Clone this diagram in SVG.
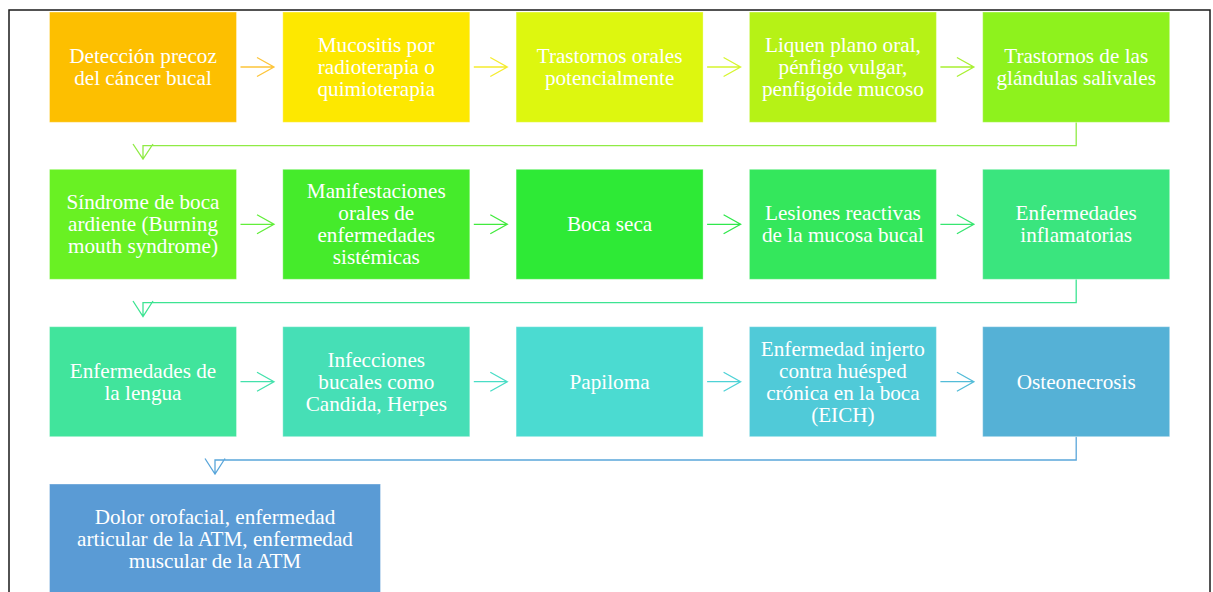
<svg xmlns="http://www.w3.org/2000/svg" width="1213" height="592" viewBox="0 0 1213 592" font-family="'Liberation Serif', serif">
  <style>
    .box { stroke: #ffffff; stroke-opacity: 0.35; stroke-width: 1; }
    text { font-family: "Liberation Serif", "Times New Roman", serif; font-size: 21.2px; fill: #ffffff; text-anchor: middle; }
    .con { fill: none; stroke-width: 1.3; }
    .frame { fill: none; stroke: #1a1a1a; stroke-width: 1.5; }
  </style>

  <rect width="1213" height="592" fill="#ffffff"/>
  <rect class="frame" x="9" y="10" width="1201" height="600"/>

  <!-- connectors -->
  <g id="connectors">
    <!-- row 1 -->
    <path class="con" stroke="#FDC53A" d="M240.5 67 H274 M257 57.5 L274 67 L257 76.5"/>
    <path class="con" stroke="#F5EC2E" d="M473.8 67 H507.3 M490.3 57.5 L507.3 67 L490.3 76.5"/>
    <path class="con" stroke="#D6F52E" d="M707.1 67 H740.6 M723.6 57.5 L740.6 67 L723.6 76.5"/>
    <path class="con" stroke="#A9F032" d="M940.4 67 H973.9 M956.9 57.5 L973.9 67 L956.9 76.5"/>
    <path class="con" stroke="#8FEB45" d="M1076.2 122.3 V145.6 H143 V159 M133 144 L143 159 L153 144"/>
    <!-- row 2 -->
    <path class="con" stroke="#62EE3A" d="M240.5 224.3 H274 M257 214.8 L274 224.3 L257 233.8"/>
    <path class="con" stroke="#42EA3E" d="M473.8 224.3 H507.3 M490.3 214.8 L507.3 224.3 L490.3 233.8"/>
    <path class="con" stroke="#30E84C" d="M707.1 224.3 H740.6 M723.6 214.8 L740.6 224.3 L723.6 233.8"/>
    <path class="con" stroke="#37E670" d="M940.4 224.3 H973.9 M956.9 214.8 L973.9 224.3 L956.9 233.8"/>
    <path class="con" stroke="#3DE492" d="M1076.2 279.3 V302.7 H143 V316.5 M133 301 L143 316.5 L153 301"/>
    <!-- row 3 -->
    <path class="con" stroke="#44E1AC" d="M240.5 381.7 H274 M257 372.2 L274 381.7 L257 391.2"/>
    <path class="con" stroke="#49DDC6" d="M473.8 381.7 H507.3 M490.3 372.2 L507.3 381.7 L490.3 391.2"/>
    <path class="con" stroke="#4ED2D6" d="M707.1 381.7 H740.6 M723.6 372.2 L740.6 381.7 L723.6 391.2"/>
    <path class="con" stroke="#53BCD8" d="M940.4 381.7 H973.9 M956.9 372.2 L973.9 381.7 L956.9 391.2"/>
    <path class="con" stroke="#5AA6DA" d="M1076.2 436.7 V460 H215 V474 M205 458.5 L215 474 L225 458.5"/>
  </g>

  <!-- row 1 -->
  <g id="n1">
    <rect class="box" x="49.5" y="12" width="187" height="110.3" fill="#FDBF00"/>
    <text x="143" y="63">Detección precoz</text>
    <text x="143" y="85">del cáncer bucal</text>
  </g>
  <g id="n2">
    <rect class="box" x="282.8" y="12" width="187" height="110.3" fill="#FDE800"/>
    <text x="376.3" y="52">Mucositis por</text>
    <text x="376.3" y="74">radioterapia o</text>
    <text x="376.3" y="96">quimioterapia</text>
  </g>
  <g id="n3">
    <rect class="box" x="516.1" y="12" width="187" height="110.3" fill="#DDF70F"/>
    <text x="609.6" y="63">Trastornos orales</text>
    <text x="609.6" y="85">potencialmente</text>
  </g>
  <g id="n4">
    <rect class="box" x="749.4" y="12" width="187" height="110.3" fill="#B6F216"/>
    <text x="842.9" y="52">Liquen plano oral,</text>
    <text x="842.9" y="74">pénfigo vulgar,</text>
    <text x="842.9" y="96">penfigoide mucoso</text>
  </g>
  <g id="n5">
    <rect class="box" x="982.7" y="12" width="187" height="110.3" fill="#8EF21D"/>
    <text x="1076.2" y="63">Trastornos de las</text>
    <text x="1076.2" y="85">glándulas salivales</text>
  </g>

  <!-- row 2 -->
  <g id="n6">
    <rect class="box" x="49.5" y="169.3" width="187" height="110" fill="#69F123"/>
    <text x="143" y="209.3">Síndrome de boca</text>
    <text x="143" y="231.3">ardiente (Burning</text>
    <text x="143" y="253.3">mouth syndrome)</text>
  </g>
  <g id="n7">
    <rect class="box" x="282.8" y="169.3" width="187" height="110" fill="#45EB2B"/>
    <text x="376.3" y="198.3">Manifestaciones</text>
    <text x="376.3" y="220.3">orales de</text>
    <text x="376.3" y="242.3">enfermedades</text>
    <text x="376.3" y="264.3">sistémicas</text>
  </g>
  <g id="n8">
    <rect class="box" x="516.1" y="169.3" width="187" height="110" fill="#2EEA36"/>
    <text x="609.6" y="231.3">Boca seca</text>
  </g>
  <g id="n9">
    <rect class="box" x="749.4" y="169.3" width="187" height="110" fill="#34E75C"/>
    <text x="842.9" y="220.3">Lesiones reactivas</text>
    <text x="842.9" y="242.3">de la mucosa bucal</text>
  </g>
  <g id="n10">
    <rect class="box" x="982.7" y="169.3" width="187" height="110" fill="#3AE57E"/>
    <text x="1076.2" y="220.3">Enfermedades</text>
    <text x="1076.2" y="242.3">inflamatorias</text>
  </g>

  <!-- row 3 -->
  <g id="n11">
    <rect class="box" x="49.5" y="326.7" width="187" height="110" fill="#41E49C"/>
    <text x="143" y="377.7">Enfermedades de</text>
    <text x="143" y="399.7">la lengua</text>
  </g>
  <g id="n12">
    <rect class="box" x="282.8" y="326.7" width="187" height="110" fill="#46DFB6"/>
    <text x="376.3" y="366.7">Infecciones</text>
    <text x="376.3" y="388.7">bucales como</text>
    <text x="376.3" y="410.7">Candida, Herpes</text>
  </g>
  <g id="n13">
    <rect class="box" x="516.1" y="326.7" width="187" height="110" fill="#4BDBD1"/>
    <text x="609.6" y="388.7">Papiloma</text>
  </g>
  <g id="n14">
    <rect class="box" x="749.4" y="326.7" width="187" height="110" fill="#50CAD8"/>
    <text x="842.9" y="355.7">Enfermedad injerto</text>
    <text x="842.9" y="377.7">contra huésped</text>
    <text x="842.9" y="399.7">crónica en la boca</text>
    <text x="842.9" y="421.7">(EICH)</text>
  </g>
  <g id="n15">
    <rect class="box" x="982.7" y="326.7" width="187" height="110" fill="#55B1D6"/>
    <text x="1076.2" y="388.7">Osteonecrosis</text>
  </g>

  <!-- row 4 -->
  <g id="n16">
    <rect class="box" x="49.5" y="484" width="331" height="110" fill="#5A9BD5"/>
    <text x="215" y="524">Dolor orofacial, enfermedad</text>
    <text x="215" y="546">articular de la ATM, enfermedad</text>
    <text x="215" y="568">muscular de la ATM</text>
  </g>
</svg>
